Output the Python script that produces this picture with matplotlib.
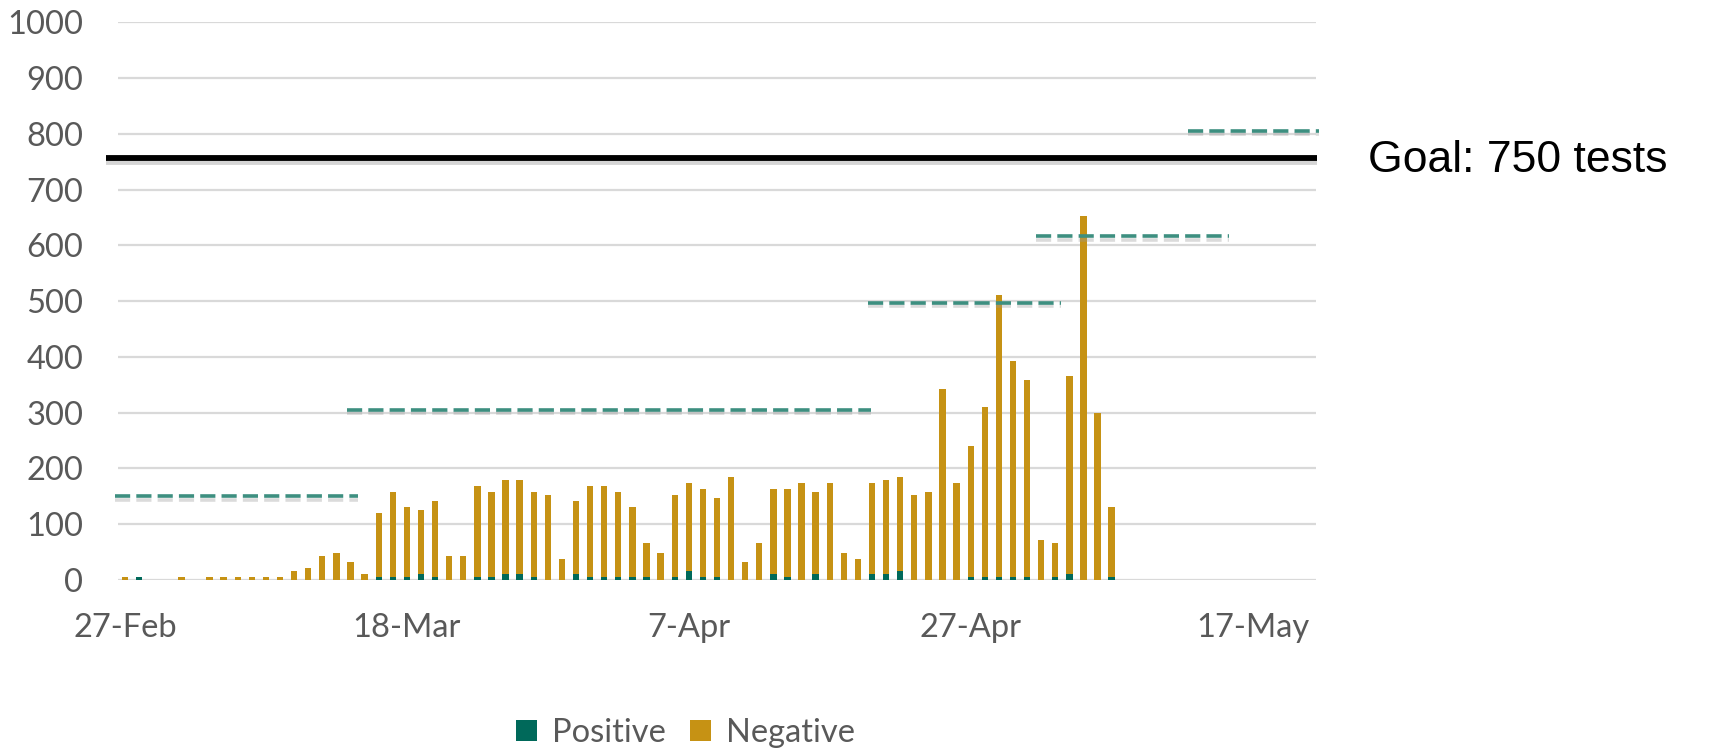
"""Daily COVID test counts with capacity steps and a 750-test goal line."""

from datetime import timedelta

import matplotlib.pyplot as plt
import matplotlib.dates as mdates
import matplotlib.patheffects as pe
import numpy as np
import pandas as pd

# daily tests, 27-Feb onwards (index 0 = 27-Feb-2020)
start_date = pd.Timestamp("2020-02-27")
end_date = pd.Timestamp("2020-05-21")
total_tests = [
    5, 5, 0, 0, 5, 0, 5, 5, 5, 5, 5, 5, 16, 22, 43, 48, 32, 11,
    120, 158, 131, 126, 142, 43, 43, 169, 158, 179, 179, 158, 152, 38,
    142, 169, 169, 158, 131, 66, 48, 152, 174, 163, 147, 185, 32, 66,
    163, 163, 174, 158, 174, 48, 38, 174, 179, 185, 152, 158, 343, 174,
    240, 310, 511, 393, 359, 72, 66, 366, 653, 300, 131,
]
positive_tests = [
    0, 5, 0, 0, 0, 0, 0, 0, 0, 0, 0, 0, 0, 0, 0, 0, 0, 0,
    5, 5, 5, 11, 5, 0, 0, 5, 5, 11, 11, 5, 0, 0,
    11, 5, 5, 5, 5, 5, 0, 5, 16, 5, 5, 0, 0, 0,
    11, 5, 0, 11, 0, 0, 0, 11, 11, 16, 0, 0, 0, 0,
    5, 5, 5, 5, 5, 0, 5, 11, 0, 0, 5,
]

# capacity steps (dashed): start / end offset in days, level in tests
capacity_start = [-0.7, 15.75, 52.75, 64.6, 75.4]
capacity_end = [16.5, 52.9, 66.4, 78.3, 84.7]
capacity_level = [150, 305, 497, 616, 805]

goal_level = 757
goal_label = "Goal: 750 tests"
tick_dates = pd.date_range(start_date, periods=5, freq="20D")

positive_color = "#00695a"
negative_color = "#c69214"
capacity_color = "#3d8f80"
text_color = "#595959"
grid_color = "#d9d9d9"

plt.rcParams["font.family"] = ["Lato", "DejaVu Sans"]

dates = pd.date_range(start_date, periods=len(total_tests), freq="D")
positive = np.asarray(positive_tests, dtype=float)
negative = np.asarray(total_tests, dtype=float) - positive

figure = plt.figure(figsize=(17.14, 7.5), dpi=100)
axis = figure.add_axes([0.0688, 0.2267, 0.699, 0.7436])

bar_width = 0.45
axis.bar(dates, positive, bar_width, color=positive_color, label="Positive", zorder=3)
axis.bar(dates, negative, bar_width, bottom=positive, color=negative_color,
         label="Negative", zorder=3)

shadow = [pe.SimpleLineShadow(offset=(0, -2.5), shadow_color="#999999", alpha=0.35),
          pe.Normal()]
for begin, finish, level in zip(capacity_start, capacity_end, capacity_level):
    xs = [start_date + timedelta(days=begin), start_date + timedelta(days=finish)]
    axis.plot(xs, [level, level], color=capacity_color, linewidth=2.6,
              dashes=(4.2, 1.7), solid_capstyle="butt", dash_capstyle="butt",
              clip_on=False, zorder=4, path_effects=shadow)

goal_x = [start_date - timedelta(days=1.35), end_date + timedelta(days=0.6)]
axis.plot(goal_x, [goal_level, goal_level], color="black", linewidth=4.2,
          solid_capstyle="butt", clip_on=False, zorder=5,
          path_effects=[pe.SimpleLineShadow(offset=(0, -3), shadow_color="#888888", alpha=0.35),
                        pe.Normal()])
figure.text(0.7983, 1 - 160 / 750, goal_label, fontsize=32, family="Liberation Sans",
            color="black", va="center", ha="left")

axis.set_xlim(start_date - timedelta(days=0.5), end_date + timedelta(days=0.5))
axis.set_ylim(0, 1000)
axis.set_yticks(np.arange(0, 1001, 100))
axis.set_xticks(tick_dates)
axis.xaxis.set_major_formatter(mdates.DateFormatter("%-d-%b"))

axis.grid(axis="y", color=grid_color, linewidth=1.6, zorder=0)
axis.set_axisbelow(True)
for spine in axis.spines.values():
    spine.set_visible(False)
axis.tick_params(axis="both", length=0, labelsize=23.5, labelcolor=text_color)
axis.tick_params(axis="y", pad=25)
axis.tick_params(axis="x", pad=24)

figure.legend(loc="center", bbox_to_anchor=(0.400, 1 - 733 / 750), ncol=2, frameon=False,
              fontsize=23.5, labelcolor=text_color, handlelength=0.65, handleheight=0.65,
              handletextpad=0.45, columnspacing=0.75)

figure.savefig("out.png", dpi=100)
